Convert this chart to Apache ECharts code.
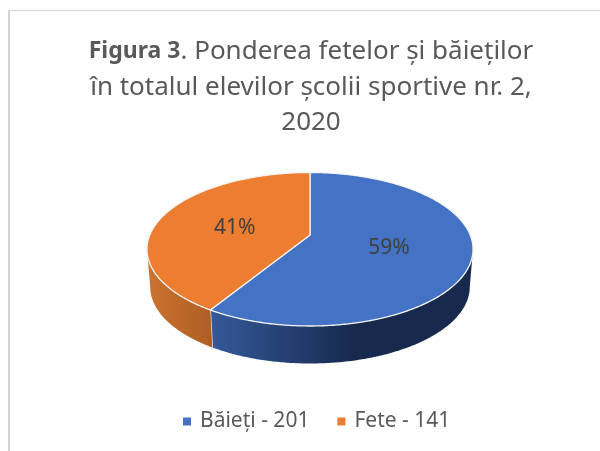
<!DOCTYPE html>
<html>
<head>
<meta charset="utf-8">
<style>
html, body { margin: 0; padding: 0; background: #fff; }
#chart { width: 600px; height: 451px; }
</style>
<script src="https://cdn.jsdelivr.net/npm/echarts@6/dist/echarts.min.js"></script>
</head>
<body>
<div id="chart"></div>
<script>
var categories = ['Băieți', 'Fete'];
var values = [201, 141];
var percentLabels = ['59%', '41%'];

var topColors = ['#4472c4', '#ed7d31'];
var wallStops = [
    [[0, '#34599a'], [0.55, '#172a4e'], [1, '#172a4e']],
    [[0, '#cc7430'], [1, '#ae5d24']]
];

// perspective of the disc, fitted on the reference
var cx = 310, cy = 235, radiusX = 160.2, radiusY = 74.1, tilt = 0.1857;
var depth = 37.5, bottomScale = 0.98;

var total = values.reduce(function (a, b) { return a + b; }, 0);

function project(angle, r) {
    var u = r * Math.sin(angle);
    var v = -r * Math.cos(angle);
    var w = 1 - tilt * v;
    return [cx + radiusX * u / w, cy + radiusY * v / w];
}

function sliceAngles(index) {
    var before = 0;
    for (var i = 0; i < index; i++) before += values[i];
    return [before / total * Math.PI * 2, (before + values[index]) / total * Math.PI * 2];
}

function arcPoints(a0, a1) {
    var pts = [];
    var n = Math.max(2, Math.ceil((a1 - a0) / 0.01));
    for (var i = 0; i <= n; i++) {
        pts.push(project(a0 + (a1 - a0) * i / n, 1));
    }
    return pts;
}

function lowered(p) {
    return [cx + (p[0] - cx) * bottomScale, p[1] + depth];
}

// angle where the rim is widest, the wall is only visible in front of it
var widestAngle = Math.acos(-tilt);

function renderWall(params, api) {
    var index = api.value(0);
    var range = sliceAngles(index);
    var a0 = Math.max(range[0], widestAngle);
    var a1 = Math.min(range[1], Math.PI * 2 - widestAngle);
    var rim = arcPoints(a0, a1);
    var pts = rim.slice();
    for (var i = rim.length - 1; i >= 0; i--) {
        pts.push(lowered(rim[i]));
    }
    var stops = wallStops[index].map(function (s) {
        return { offset: s[0], color: s[1] };
    });
    var children = [{
        type: 'polygon',
        shape: { points: pts },
        style: { fill: new echarts.graphic.LinearGradient(0, 0, 1, 0, stops) }
    }];
    // light edge between the two walls
    if (range[1] < Math.PI * 2 - widestAngle) {
        var end = project(range[1], 1);
        var endLow = lowered(end);
        children.push({
            type: 'line',
            shape: { x1: end[0], y1: end[1], x2: endLow[0], y2: endLow[1] },
            style: { stroke: '#eeeeee', lineWidth: 1.3 }
        });
    }
    return { type: 'group', children: children };
}

function renderTop(params, api) {
    var index = api.value(0);
    var range = sliceAngles(index);
    var mid = (range[0] + range[1]) / 2;
    var pts = [[cx, cy]].concat(arcPoints(range[0], range[1]));
    var labelPos = project(mid, 0.5);
    return {
        type: 'group',
        children: [
            {
                type: 'polygon',
                shape: { points: pts },
                style: { fill: topColors[index], stroke: '#f4f4f4', lineWidth: 1.3, lineJoin: 'round' }
            },
            {
                type: 'text',
                style: {
                    x: labelPos[0],
                    y: labelPos[1] + 3,
                    text: percentLabels[index],
                    align: 'center',
                    verticalAlign: 'middle',
                    fill: '#404040',
                    font: '21px "Noto Sans"'
                },
                z2: 10
            }
        ]
    };
}

function seriesName(i) {
    return categories[i] + ' - ' + values[i];
}

var series = [];
categories.forEach(function (c, i) {
    series.push({
        type: 'custom',
        name: seriesName(i),
        coordinateSystem: 'none',
        renderItem: renderWall,
        silent: true,
        z: 1,
        data: [[i, values[i]]]
    });
});
categories.forEach(function (c, i) {
    series.push({
        type: 'custom',
        name: seriesName(i),
        coordinateSystem: 'none',
        renderItem: renderTop,
        silent: true,
        z: 2,
        itemStyle: { color: topColors[i] },
        data: [[i, values[i]]]
    });
});

var myChart = echarts.init(document.getElementById('chart'), null, { renderer: 'canvas' });

myChart.setOption({
    animation: false,
    backgroundColor: '#fff',
    color: topColors,
    title: {
        text: '{b|Figura 3}. Ponderea fetelor și băieților\nîn totalul elevilor școlii sportive nr. 2,\n2020',
        left: 306,
        top: 29,
        textAlign: 'center',
        textStyle: {
            color: '#595959',
            fontFamily: 'Noto Sans',
            fontSize: 26,
            fontWeight: 'normal',
            lineHeight: 35.5,
            rich: {
                b: { fontFamily: 'Noto Sans', fontSize: 23, fontWeight: 'bold', color: '#595959', lineHeight: 35.5 }
            }
        }
    },
    legend: {
        data: categories.map(function (c, i) { return seriesName(i); }),
        left: 178,
        top: 406,
        icon: 'rect',
        itemWidth: 8,
        itemHeight: 8,
        itemGap: 28,
        textStyle: { color: '#595959', fontFamily: 'Noto Sans', fontSize: 21, padding: [0, 0, 0, 4] }
    },
    graphic: [
        { type: 'line', shape: { x1: 9, y1: 10.5, x2: 600, y2: 10.5 }, style: { stroke: '#d9d9d9', lineWidth: 1.5 } },
        { type: 'line', shape: { x1: 9, y1: 10, x2: 9, y2: 451 }, style: { stroke: '#d4d4d4', lineWidth: 2 } }
    ],
    series: series
});
</script>
</body>
</html>
